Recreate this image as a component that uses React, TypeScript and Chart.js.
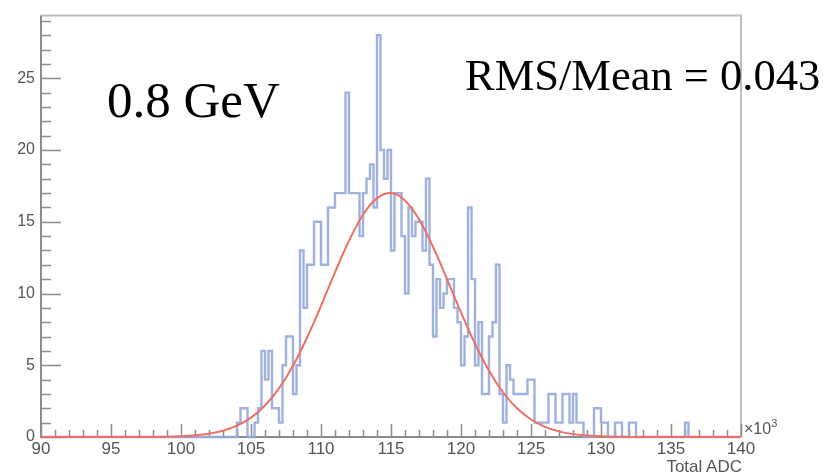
import React, { useEffect, useRef } from "react";
import { Chart, registerables } from "chart.js";

Chart.register(...registerables);

// x values are in units of 10^3 ADC
const xMin = 90;
const xMax = 140;
const yMax = 29.37;
const binLow = 104;
const binWidth = 0.25;
const binCounts = [
  1, 2, 2, 0, 0, 1, 2, 6, 4, 6, 2, 2, 1, 5, 7, 7, 3, 5, 13, 9,
  12, 12, 15, 15, 12, 12, 16, 16, 17, 17, 17, 24, 17, 17, 17, 14, 17, 18, 19, 16,
  28, 20, 18, 20, 13, 17, 17, 14, 10, 16, 14, 15, 15, 13, 18, 12, 7, 11, 9, 10,
  11, 11, 9, 8, 5, 7, 16, 11, 5, 8, 3, 3, 7, 8, 12, 3, 1, 5, 4, 3,
  3, 3, 3, 4, 4, 1, 1, 1, 1, 3, 3, 1, 1, 3, 3, 1, 3, 1, 1, 0,
  0, 0, 2, 2, 1, 1, 0, 0, 1, 1, 0, 0, 1, 1, 0, 0, 0, 0, 0, 0,
  0, 0, 0, 0, 0, 0, 0, 0, 1, 0,
];
const fitX = [
  90, 91, 92, 93, 94, 95, 96, 97, 98, 99, 100, 101, 102, 103, 104, 105, 106, 107, 108, 109,
  110, 111, 112, 113, 114, 115, 116, 117, 118, 119, 120, 121, 122, 123, 124, 125, 126, 127, 128, 129,
  130, 131, 132, 133, 134, 135, 136, 137, 138, 139, 140,
];
const fitY = [
  0, 0, 0, 0, 0, 0, 0, 0.002, 0.006, 0.02, 0.055, 0.116, 0.231, 0.439, 0.79, 1.35, 2.2, 3.39, 4.97, 6.92,
  9.14, 11.48, 13.68, 15.49, 16.65, 17.0, 16.48, 15.17, 13.26, 11.01, 8.69, 6.5, 4.62, 3.12, 2.0, 1.22, 0.71, 0.39, 0.2, 0.1,
  0.047, 0.02, 0.008, 0.003, 0, 0, 0, 0, 0, 0, 0,
];
const xTicks = [90, 95, 100, 105, 110, 115, 120, 125, 130, 135, 140];
const yTicks = [0, 5, 10, 15, 20, 25];

const framePlugin = {
  id: "rootFrame",
  beforeDatasetsDraw(chart: any) {
    const { ctx, chartArea, scales } = chart;
    const { left, right, top, bottom } = chartArea;
    const xs = scales.x;
    const ys = scales.y;
    ctx.save();
    ctx.lineCap = "butt";
    // top & right frame
    ctx.strokeStyle = "#bdbdbd";
    ctx.lineWidth = 2;
    ctx.beginPath();
    ctx.moveTo(left, top);
    ctx.lineTo(right, top);
    ctx.lineTo(right, bottom);
    ctx.stroke();
    // axes
    ctx.strokeStyle = "#8c8c8c";
    ctx.lineWidth = 2;
    ctx.beginPath();
    ctx.moveTo(left, top);
    ctx.lineTo(left, bottom);
    ctx.lineTo(right, bottom);
    ctx.stroke();
    // ticks
    ctx.lineWidth = 1.5;
    ctx.strokeStyle = "#8c8c8c";
    ctx.beginPath();
    for (let v = xMin; v <= xMax; v += 1) {
      const px = Math.round(xs.getPixelForValue(v)) + 0.5;
      const len = v % 5 === 0 ? 13 : 7;
      ctx.moveTo(px, bottom);
      ctx.lineTo(px, bottom - len);
    }
    for (let v = 0; v <= Math.floor(yMax); v += 1) {
      const py = Math.round(ys.getPixelForValue(v)) + 0.5;
      const len = v % 5 === 0 ? 20 : 10;
      ctx.moveTo(left, py);
      ctx.lineTo(left + len, py);
    }
    ctx.stroke();
    ctx.restore();
  },
};

export default function App() {
  const canvasRef = useRef<HTMLCanvasElement | null>(null);

  useEffect(() => {
    document.body.style.margin = "0";
    const canvas = canvasRef.current;
    if (!canvas) return;

    const histPoints: { x: number; y: number }[] = [{ x: xMin, y: 0 }, { x: binLow, y: 0 }];
    binCounts.forEach((c, i) => histPoints.push({ x: binLow + i * binWidth, y: c }));
    const binHigh = binLow + binCounts.length * binWidth;
    histPoints.push({ x: binHigh, y: 0 });
    histPoints.push({ x: xMax, y: 0 });

    const fitPoints = fitX.map((x, i) => ({ x, y: fitY[i] }));

    const chart = new Chart(canvas, {
      type: "line",
      data: {
        datasets: [
          {
            label: "fit",
            data: fitPoints,
            borderColor: "rgb(238,112,98)",
            borderWidth: 2,
            pointRadius: 0,
            cubicInterpolationMode: "monotone",
            fill: false,
            order: 0,
            clip: 4,
          } as any,
          {
            label: "hist",
            data: histPoints,
            borderColor: "rgba(150,168,220,0.9)",
            borderWidth: 2.4,
            pointRadius: 0,
            stepped: true,
            fill: false,
            borderJoinStyle: "miter",
            order: 1,
            clip: 4,
          } as any,
        ],
      },
      options: {
        animation: false,
        responsive: false,
        devicePixelRatio: 1,
        layout: { padding: { top: 15, right: 88, left: 0, bottom: 0 } },
        plugins: {
          legend: { display: false },
          tooltip: { enabled: false },
        },
        scales: {
          x: {
            type: "linear",
            min: xMin,
            max: xMax,
            grid: { display: false, drawTicks: false },
            border: { display: false },
            afterBuildTicks: (s: any) => {
              s.ticks = xTicks.map((v) => ({ value: v }));
            },
            afterFit: (s: any) => {
              s.height = 36;
            },
            ticks: {
              padding: 2,
              maxRotation: 0,
              autoSkip: false,
              color: "#555",
              font: { family: "Liberation Sans", size: 17 },
            },
          },
          y: {
            type: "linear",
            min: 0,
            max: yMax,
            grid: { display: false, drawTicks: false },
            border: { display: false },
            afterBuildTicks: (s: any) => {
              s.ticks = yTicks.map((v) => ({ value: v }));
            },
            afterFit: (s: any) => {
              s.width = 41;
            },
            ticks: {
              padding: 6,
              autoSkip: false,
              color: "#555",
              font: { family: "Liberation Sans", size: 16 },
            },
          },
        },
      } as any,
      plugins: [framePlugin],
    });
    return () => chart.destroy();
  }, []);

  return (
    <div style={{ position: "relative", width: 829, height: 473, background: "#fff", overflow: "hidden" }}>
      <canvas ref={canvasRef} width={829} height={473} style={{ display: "block" }} />
      <div
        style={{
          position: "absolute",
          left: 107,
          top: 75,
          fontFamily: "'Liberation Serif', serif",
          fontSize: 51,
          lineHeight: 1,
          color: "#000",
          whiteSpace: "nowrap",
        }}
      >
        0.8 GeV
      </div>
      <div
        style={{
          position: "absolute",
          left: 465,
          top: 53,
          fontFamily: "'Liberation Serif', serif",
          fontSize: 44.5,
          lineHeight: 1,
          color: "#000",
          whiteSpace: "nowrap",
        }}
      >
        RMS/Mean = 0.043
      </div>
      <div
        style={{
          position: "absolute",
          left: 744,
          top: 421,
          fontFamily: "'Liberation Sans', sans-serif",
          fontSize: 16,
          lineHeight: 1,
          color: "#555",
          whiteSpace: "nowrap",
        }}
      >
        ×10<sup style={{ fontSize: 11, verticalAlign: "7px", lineHeight: 0 }}>3</sup>
      </div>
      <div
        style={{
          position: "absolute",
          right: 829 - 742,
          top: 458,
          fontFamily: "'Liberation Sans', sans-serif",
          fontSize: 17,
          lineHeight: 1,
          color: "#555",
          whiteSpace: "nowrap",
        }}
      >
        Total ADC
      </div>
    </div>
  );
}
